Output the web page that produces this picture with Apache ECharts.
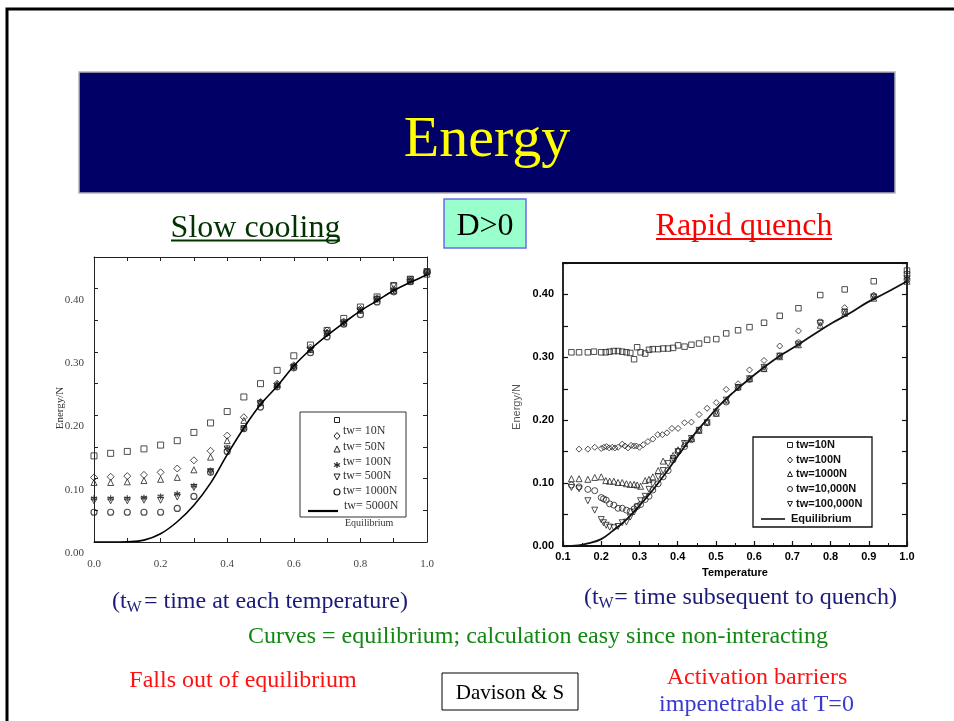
<!DOCTYPE html>
<html><head><meta charset="utf-8">
<script src="https://cdn.jsdelivr.net/npm/echarts@6/dist/echarts.min.js"></script>
<style>html,body{margin:0;padding:0;background:#fff}#c{width:954px;height:721px}</style>
</head><body><div id="c"></div>
<script>
// ---------- Slow cooling (left panel) ----------
const slowT = [0,0.05,0.1,0.15,0.2,0.25,0.3,0.35,0.4,0.45,0.5,0.55,0.6,0.65,0.7,0.75,0.8,0.85,0.9,0.95,1.0];
const slowSquare = [0.136,0.140,0.143,0.147,0.153,0.160,0.173,0.188,0.206,0.229,0.250,0.271,0.294,0.311,0.334,0.353,0.371,0.387,0.404,0.415,0.427];
const slowDiamond = [0.102,0.103,0.104,0.106,0.110,0.116,0.129,0.144,0.168,0.197,0.221,0.250,0.279,0.307,0.334,0.348,0.368,0.385,0.399,0.414,0.426];
const slowTriangle = [0.094,0.094,0.095,0.097,0.099,0.102,0.114,0.134,0.160,0.192,0.220,0.249,0.278,0.304,0.331,0.346,0.366,0.384,0.397,0.412,0.423];
const slowStar = [0.069,0.069,0.069,0.070,0.072,0.076,0.089,0.113,0.148,0.180,0.221,0.247,0.278,0.304,0.331,0.347,0.366,0.384,0.398,0.413,0.425];
const slowInvTri = [0.065,0.065,0.065,0.066,0.066,0.071,0.086,0.111,0.147,0.179,0.219,0.246,0.276,0.303,0.329,0.346,0.365,0.383,0.405,0.414,0.425];
const slowCircle = [0.047,0.047,0.047,0.047,0.047,0.053,0.072,0.110,0.143,0.179,0.213,0.245,0.275,0.299,0.324,0.344,0.359,0.379,0.395,0.411,0.426];
const slowEquil = [0,0,0.0005,0.003,0.013,0.032,0.058,0.093,0.138,0.180,0.217,0.246,0.278,0.304,0.326,0.346,0.365,0.381,0.397,0.410,0.422];
const slowXTicks = ['0.0','0.2','0.4','0.6','0.8','1.0'];
const slowLegend = ['', 'tw= 10N', 'tw= 50N', 'tw= 100N', 'tw= 500N', 'tw= 1000N', 'tw= 5000N', 'Equilibrium'];

// ---------- Rapid quench (right panel) ----------
const rqT10 = [0.122,0.142,0.165,0.181,0.200,0.212,0.222,0.233,0.244,0.255,0.266,0.276,0.286,0.294,0.303,0.315,0.325,0.335,0.349,0.362,0.375,0.388,0.401,0.418,0.436,0.456,0.477,0.501,0.527,0.558,0.588,0.626,0.667,0.716,0.773,0.837,0.913,1.0,1.0];
const rqE10 = [0.308,0.308,0.308,0.309,0.308,0.308,0.309,0.310,0.310,0.309,0.308,0.307,0.297,0.316,0.308,0.306,0.312,0.313,0.313,0.314,0.314,0.315,0.319,0.317,0.320,0.322,0.328,0.329,0.338,0.343,0.348,0.355,0.366,0.378,0.399,0.408,0.421,0.438,0.432];
const rqT100 = [0.142,0.165,0.183,0.200,0.207,0.214,0.221,0.229,0.236,0.244,0.255,0.262,0.270,0.278,0.285,0.292,0.300,0.310,0.322,0.335,0.348,0.360,0.372,0.385,0.401,0.418,0.436,0.456,0.477,0.501,0.527,0.558,0.588,0.626,0.667,0.716,0.837,0.913,1.0];
const rqE100 = [0.154,0.154,0.157,0.155,0.157,0.158,0.156,0.157,0.156,0.157,0.162,0.159,0.156,0.160,0.159,0.159,0.157,0.161,0.166,0.170,0.177,0.177,0.180,0.187,0.187,0.196,0.197,0.209,0.219,0.228,0.249,0.258,0.280,0.295,0.318,0.342,0.379,0.399,0.425];
const rqT1000 = [0.122,0.142,0.165,0.183,0.200,0.212,0.222,0.233,0.244,0.255,0.266,0.276,0.286,0.294,0.303,0.315,0.325,0.335,0.349,0.362,0.388,0.401,0.418,0.436,0.456,0.477,0.501,0.527,0.558,0.588,0.626,0.667,0.716,0.773,0.837,0.913,1.0];
const rqE1000 = [0.107,0.107,0.106,0.109,0.110,0.104,0.103,0.103,0.101,0.101,0.099,0.098,0.098,0.097,0.095,0.104,0.106,0.110,0.120,0.135,0.144,0.153,0.163,0.171,0.184,0.197,0.211,0.232,0.253,0.266,0.282,0.301,0.320,0.351,0.370,0.394,0.421];
const rqT1e4 = [0.122,0.142,0.165,0.183,0.200,0.206,0.213,0.222,0.233,0.244,0.255,0.266,0.276,0.286,0.294,0.303,0.315,0.325,0.335,0.349,0.362,0.375,0.388,0.401,0.418,0.436,0.456,0.477,0.501,0.527,0.558,0.588,0.626,0.667,0.716,0.773,0.837,0.913,1.0];
const rqE1e4 = [0.097,0.094,0.090,0.088,0.077,0.075,0.073,0.067,0.065,0.060,0.060,0.057,0.055,0.059,0.063,0.066,0.074,0.079,0.089,0.099,0.110,0.120,0.137,0.150,0.158,0.169,0.184,0.196,0.211,0.229,0.252,0.265,0.282,0.302,0.323,0.356,0.372,0.396,0.423];
const rqT1e5 = [0.122,0.142,0.165,0.183,0.200,0.206,0.213,0.222,0.233,0.244,0.255,0.266,0.276,0.286,0.294,0.303,0.315,0.325,0.335,0.349,0.362,0.375,0.388,0.401,0.418,0.436,0.456,0.477,0.501,0.527,0.558,0.588,0.626,0.667,0.716,0.773,0.837,0.913,1.0];
const rqE1e5 = [0.093,0.091,0.072,0.057,0.042,0.037,0.033,0.030,0.029,0.031,0.037,0.038,0.046,0.054,0.062,0.072,0.079,0.090,0.099,0.110,0.120,0.131,0.139,0.150,0.163,0.171,0.184,0.196,0.213,0.232,0.252,0.266,0.284,0.302,0.320,0.354,0.372,0.396,0.425];
const rqEqT = [0.1,0.14,0.165,0.2,0.23,0.266,0.3,0.335,0.37,0.405,0.44,0.475,0.51,0.545,0.58,0.615,0.65,0.685,0.72,0.765,0.805,0.85,0.895,0.94,1.0];
const rqEqE = [0,0.001,0.004,0.011,0.024,0.042,0.064,0.089,0.117,0.147,0.175,0.200,0.224,0.244,0.262,0.279,0.295,0.309,0.322,0.340,0.355,0.370,0.387,0.401,0.421];
const rqLegend = ['tw=10N','tw=100N','tw=1000N','tw=10,000N','tw=100,000N','Equilibrium'];

// ---------- slide texts ----------
const slideTitle = 'Energy';
const leftHeading = 'Slow cooling';
const rightHeading = 'Rapid quench';
const centerBox = 'D>0';

const zip = (xs, ys) => xs.map((x, i) => [x, ys[i]]);
const SERIF = '"Liberation Serif","Times New Roman",serif';
const SANS = '"Liberation Sans",Arial,sans-serif';
const INV_TRI = 'path://M0,0L10,0L5,9Z';
const STAR = 'path://M5,0L5,10M0.7,2.5L9.3,7.5M0.7,7.5L9.3,2.5';
const hollow = (c, w) => ({ color: 'rgba(255,255,255,0)', borderColor: c, borderWidth: w });
const isStep = (v, step) => Math.abs(v / step - Math.round(v / step)) < 1e-6;

const leftLine = { show: true, onZero: false, lineStyle: { color: '#222', width: 1 } };
const rightLine = { show: true, onZero: false, lineStyle: { color: '#111', width: 1.8 } };

function txt(x, y, text, size, color, family, align, extra) {
  return Object.assign({ type: 'text', x: x, y: y, z: 10,
    style: Object.assign({ text: text, fill: color, fontSize: size, fontFamily: family,
      align: align || 'center', verticalAlign: 'middle' }, (extra && extra.style) || {}) },
    extra && extra.el ? extra.el : {});
}
function lsym(kind, cx, cy, s, color, lw) {
  const st = { fill: 'none', stroke: color, lineWidth: lw };
  const h = s / 2;
  if (kind === 'square') return { type: 'rect', shape: { x: cx - h, y: cy - h, width: s, height: s }, style: st, z: 10 };
  if (kind === 'diamond') return { type: 'polygon', shape: { points: [[cx, cy - h - 0.5], [cx + h, cy], [cx, cy + h + 0.5], [cx - h, cy]] }, style: st, z: 10 };
  if (kind === 'triangle') return { type: 'polygon', shape: { points: [[cx, cy - h], [cx + h, cy + h], [cx - h, cy + h]] }, style: st, z: 10 };
  if (kind === 'inv') return { type: 'polygon', shape: { points: [[cx - h, cy - h], [cx + h, cy - h], [cx, cy + h]] }, style: st, z: 10 };
  if (kind === 'circle') return { type: 'circle', shape: { cx: cx, cy: cy, r: h }, style: st, z: 10 };
  if (kind === 'star') return { type: 'group', z: 10, children: [
    { type: 'line', shape: { x1: cx, y1: cy - h, x2: cx, y2: cy + h }, style: { stroke: color, lineWidth: lw } },
    { type: 'line', shape: { x1: cx - h, y1: cy - h / 2, x2: cx + h, y2: cy + h / 2 }, style: { stroke: color, lineWidth: lw } },
    { type: 'line', shape: { x1: cx - h, y1: cy + h / 2, x2: cx + h, y2: cy - h / 2 }, style: { stroke: color, lineWidth: lw } }] };
}

const graphics = [
  { type: 'polyline', shape: { points: [[954, 9], [7, 9], [7, 721]] }, style: { stroke: '#000', lineWidth: 3, fill: 'none' } },
  { type: 'rect', shape: { x: 79, y: 72, width: 816, height: 121 }, style: { fill: '#000066', stroke: '#b4b4b4', lineWidth: 1.5 } },
  txt(487, 141, slideTitle, 58, '#ffff00', SERIF),
  { type: 'rect', shape: { x: 444, y: 199, width: 82, height: 49 }, style: { fill: '#99ffcc', stroke: '#6a6af0', lineWidth: 1.5 } },
  txt(485, 227, centerBox, 32, '#000', SERIF),
  txt(255.5, 229, leftHeading, 32, '#003300', SERIF),
  { type: 'line', shape: { x1: 171, y1: 240.5, x2: 340, y2: 240.5 }, style: { stroke: '#003300', lineWidth: 2 } },
  txt(744, 227, rightHeading, 32, '#ff0000', SERIF),
  { type: 'line', shape: { x1: 656, y1: 239, x2: 832, y2: 239 }, style: { stroke: '#ff0000', lineWidth: 2 } },

  // axis names
  txt(60, 408, 'Energy/N', 11, '#333', SERIF, 'center', { el: { rotation: Math.PI / 2 } }),
  txt(517, 407, 'Energy/N', 11, '#555', SANS, 'center', { el: { rotation: Math.PI / 2 } }),

  // left legend
  { type: 'rect', shape: { x: 300, y: 412, width: 106, height: 105 }, style: { fill: 'none', stroke: '#333', lineWidth: 1 }, z: 10 },
  lsym('square', 337, 420, 5, '#222', 1),
  lsym('diamond', 337, 436, 6, '#222', 1),
  lsym('triangle', 337, 449, 6, '#222', 1),
  lsym('star', 337, 465, 6, '#222', 1.3),
  lsym('inv', 337, 477, 6, '#222', 1),
  lsym('circle', 337, 492, 6, '#222', 1.2),
  { type: 'line', shape: { x1: 308, y1: 511, x2: 338, y2: 511 }, style: { stroke: '#000', lineWidth: 2.2 }, z: 10 },
  txt(343, 431, slowLegend[1], 12, '#333', SERIF, 'left'),
  txt(343, 447, slowLegend[2], 12, '#333', SERIF, 'left'),
  txt(343, 462, slowLegend[3], 12, '#333', SERIF, 'left'),
  txt(343, 476, slowLegend[4], 12, '#333', SERIF, 'left'),
  txt(343, 491, slowLegend[5], 12, '#333', SERIF, 'left'),
  txt(344, 506, slowLegend[6], 12, '#333', SERIF, 'left'),
  txt(345, 523, slowLegend[7], 10, '#333', SERIF, 'left'),

  // right legend
  { type: 'rect', shape: { x: 753, y: 437, width: 119, height: 90 }, style: { fill: '#fff', stroke: '#111', lineWidth: 1.3 }, z: 9 },
  lsym('square', 790, 445, 5, '#222', 1),
  lsym('diamond', 790, 460, 5, '#222', 1),
  lsym('triangle', 790, 474, 5, '#222', 1),
  lsym('circle', 790, 489, 5, '#222', 1),
  lsym('inv', 790, 504, 5, '#222', 1),
  { type: 'line', shape: { x1: 761, y1: 519, x2: 785, y2: 519 }, style: { stroke: '#111', lineWidth: 1.6 }, z: 10 },
  txt(796, 445, rqLegend[0], 11, '#111', SANS, 'left', { style: { fontWeight: 'bold' } }),
  txt(796, 460, rqLegend[1], 11, '#111', SANS, 'left', { style: { fontWeight: 'bold' } }),
  txt(796, 474, rqLegend[2], 11, '#111', SANS, 'left', { style: { fontWeight: 'bold' } }),
  txt(796, 489, rqLegend[3], 11, '#111', SANS, 'left', { style: { fontWeight: 'bold' } }),
  txt(796, 504, rqLegend[4], 11, '#111', SANS, 'left', { style: { fontWeight: 'bold' } }),
  txt(791, 519, rqLegend[5], 11, '#111', SANS, 'left', { style: { fontWeight: 'bold' } }),

  // bottom notes
  txt(112, 602, '(t', 24, '#1c1c78', SERIF, 'left'),
  txt(126.5, 608, 'W', 16, '#1c1c78', SERIF, 'left'),
  txt(408, 602, '= time at each temperature)', 24, '#1c1c78', SERIF, 'right'),
  txt(584, 598, '(t', 24, '#1c1c78', SERIF, 'left'),
  txt(598.5, 604, 'W', 16, '#1c1c78', SERIF, 'left'),
  txt(897, 598, '= time subsequent to quench)', 24, '#1c1c78', SERIF, 'right'),
  txt(538, 637, 'Curves = equilibrium; calculation easy since non-interacting', 24, '#118811', SERIF),
  txt(243, 681, 'Falls out of equilibrium', 24, '#ff1111', SERIF),
  { type: 'rect', shape: { x: 442, y: 673, width: 136, height: 37 }, style: { fill: '#fff', stroke: '#000', lineWidth: 1 } },
  txt(510, 693, 'Davison & S', 21, '#000', SERIF),
  txt(757, 678, 'Activation barriers', 24, '#ff1111', SERIF),
  txt(756.5, 705, 'impenetrable at T=0', 24, '#3939d0', SERIF)
];

const leftScatter = (name, data, symbol, size, lw) => ({
  name: name, type: 'scatter', xAxisIndex: 0, yAxisIndex: 0, data: data,
  symbol: symbol, symbolSize: size, itemStyle: hollow('#222', lw || 1), z: 3, silent: true
});
const rightScatter = (name, data, symbol, size) => ({
  name: name, type: 'scatter', xAxisIndex: 2, yAxisIndex: 2, data: data,
  symbol: symbol, symbolSize: size, itemStyle: hollow('#222', 1), z: 3, silent: true
});

const option = {
  backgroundColor: '#fff',
  animation: false,
  grid: [
    { left: 94, top: 257, width: 333, height: 285, outerBoundsMode: 'none' },
    { left: 563, top: 263, width: 344, height: 283, outerBoundsMode: 'none' }
  ],
  xAxis: [
    { gridIndex: 0, type: 'value', position: 'bottom', min: 0, max: 1, interval: 0.1,
      axisLine: leftLine, axisTick: { show: true, inside: true, length: 4, lineStyle: { color: '#222' } },
      axisLabel: { margin: 17, fontFamily: SERIF, fontSize: 11, color: '#444',
        formatter: v => isStep(v, 0.2) ? slowXTicks[Math.round(v / 0.2)] : '' },
      splitLine: { show: false } },
    { gridIndex: 0, type: 'value', position: 'top', min: 0, max: 1, interval: 0.1,
      axisLine: leftLine, axisTick: { show: true, inside: true, length: 4, lineStyle: { color: '#222' } },
      axisLabel: { show: false }, splitLine: { show: false } },
    { gridIndex: 1, type: 'value', position: 'bottom', min: 0.1, max: 1.0, interval: 0.1,
      axisLine: rightLine, axisTick: { show: true, inside: true, length: 5, lineStyle: { color: '#111', width: 1.2 } },
      minorTick: { show: true, splitNumber: 2, length: 3, lineStyle: { color: '#111' } },
      axisLabel: { margin: 5, fontFamily: SANS, fontWeight: 'bold', fontSize: 11, color: '#000',
        formatter: v => v.toFixed(1) },
      name: 'Temperature', nameLocation: 'middle', nameGap: 21,
      nameTextStyle: { fontFamily: SANS, fontWeight: 'bold', fontSize: 11, color: '#000' },
      splitLine: { show: false } },
    { gridIndex: 1, type: 'value', position: 'top', min: 0.1, max: 1.0, interval: 0.1,
      axisLine: rightLine, axisTick: { show: false }, axisLabel: { show: false }, splitLine: { show: false } }
  ],
  yAxis: [
    { gridIndex: 0, type: 'value', position: 'left', min: 0, max: 0.45, interval: 0.05,
      axisLine: leftLine, axisTick: { show: true, inside: true, length: 4, lineStyle: { color: '#222' } },
      axisLabel: { margin: 10, fontFamily: SERIF, fontSize: 11, color: '#444', verticalAlign: 'top', lineHeight: 22,
        formatter: v => isStep(v, 0.1) ? v.toFixed(2) : '' },
      splitLine: { show: false } },
    { gridIndex: 0, type: 'value', position: 'right', min: 0, max: 0.45, interval: 0.05,
      axisLine: leftLine, axisTick: { show: true, inside: true, length: 4, lineStyle: { color: '#222' } },
      axisLabel: { show: false }, splitLine: { show: false } },
    { gridIndex: 1, type: 'value', position: 'left', min: 0, max: 0.45, interval: 0.05,
      axisLine: rightLine, axisTick: { show: true, inside: true, length: 5, lineStyle: { color: '#111', width: 1.2 } },
      axisLabel: { margin: 9, fontFamily: SANS, fontWeight: 'bold', fontSize: 11, color: '#000',
        formatter: v => isStep(v, 0.1) ? v.toFixed(2) : '' },
      splitLine: { show: false } },
    { gridIndex: 1, type: 'value', position: 'right', min: 0, max: 0.45, interval: 0.05,
      axisLine: rightLine, axisTick: { show: true, inside: true, length: 5, lineStyle: { color: '#111', width: 1.2 } },
      axisLabel: { show: false }, splitLine: { show: false } }
  ],
  series: [
    leftScatter('square', zip(slowT, slowSquare), 'rect', 6),
    leftScatter('diamond', zip(slowT, slowDiamond), 'diamond', 7),
    leftScatter('triangle', zip(slowT, slowTriangle), 'triangle', 6),
    leftScatter('star', zip(slowT, slowStar), STAR, 6, 1.3),
    leftScatter('inverted triangle', zip(slowT, slowInvTri), INV_TRI, 6),
    leftScatter('circle', zip(slowT, slowCircle), 'circle', 6, 1.2),
    { name: 'Equilibrium (slow)', type: 'line', xAxisIndex: 0, yAxisIndex: 0, data: zip(slowT, slowEquil),
      smooth: 0.4, showSymbol: false, lineStyle: { color: '#000', width: 1.6 }, z: 4, silent: true },

    rightScatter(rqLegend[0], zip(rqT10, rqE10), 'rect', 5.5),
    rightScatter(rqLegend[1], zip(rqT100, rqE100), 'diamond', 6),
    rightScatter(rqLegend[2], zip(rqT1000, rqE1000), 'triangle', 6),
    rightScatter(rqLegend[3], zip(rqT1e4, rqE1e4), 'circle', 6),
    rightScatter(rqLegend[4], zip(rqT1e5, rqE1e5), INV_TRI, 6),
    { name: rqLegend[5], type: 'line', xAxisIndex: 2, yAxisIndex: 2, data: zip(rqEqT, rqEqE),
      smooth: 0.4, showSymbol: false, lineStyle: { color: '#111', width: 1.8 }, z: 4, silent: true }
  ],
  graphic: { elements: graphics }
};

const chart = echarts.init(document.getElementById('c'), null, { renderer: 'canvas' });
chart.setOption(option);
</script>
</body></html>
